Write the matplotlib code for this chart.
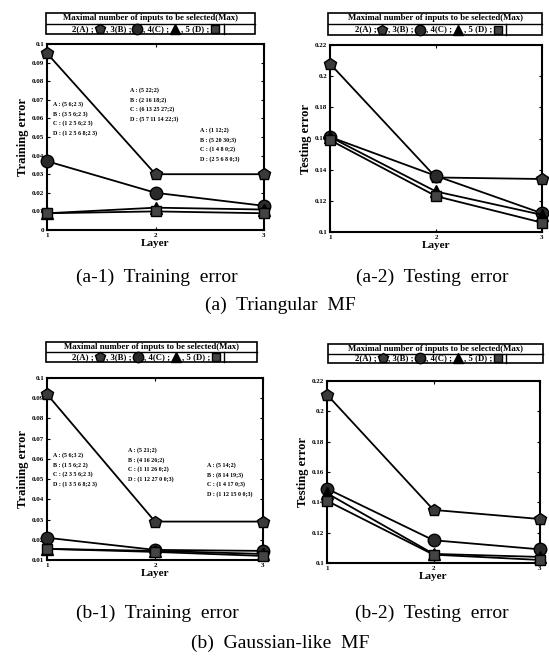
import matplotlib
matplotlib.use("Agg")
import matplotlib.pyplot as plt
from matplotlib.patches import Rectangle
from matplotlib.lines import Line2D

W, H = 549, 657

layers = [1, 2, 3]

# (a-1) Triangular MF, training error
a1_A = [0.095, 0.030, 0.030]
a1_B = [0.037, 0.020, 0.013]
a1_C = [0.009, 0.012, 0.011]
a1_D = [0.009, 0.010, 0.009]

# (a-2) Triangular MF, testing error
a2_A = [0.208, 0.135, 0.134]
a2_B = [0.161, 0.136, 0.112]
a2_C = [0.161, 0.126, 0.111]
a2_D = [0.159, 0.123, 0.106]

# (b-1) Gaussian-like MF, training error
b1_A = [0.092, 0.029, 0.029]
b1_B = [0.021, 0.015, 0.0145]
b1_C = [0.0155, 0.0145, 0.013]
b1_D = [0.0155, 0.014, 0.012]

# (b-2) Gaussian-like MF, testing error
b2_A = [0.211, 0.135, 0.129]
b2_B = [0.149, 0.115, 0.109]
b2_C = [0.146, 0.106, 0.104]
b2_D = [0.141, 0.1055, 0.102]

train_ticks = [0, 0.01, 0.02, 0.03, 0.04, 0.05, 0.06, 0.07, 0.08, 0.09, 0.1]
train_labels = ["0", "0.01", "0.02", "0.03", "0.04", "0.05", "0.06", "0.07", "0.08", "0.09", "0.1"]
test_ticks = [0.1, 0.12, 0.14, 0.16, 0.18, 0.2, 0.22]
test_labels = ["0.1", "0.12", "0.14", "0.16", "0.18", "0.2", "0.22"]

a1_notes = [
    ["A : (5 6;2 3)", "B : (3 5 6;2 3)", "C : (1 2 5 6;2 3)", "D : (1 2 5 6 8;2 3)"],
    ["A : (5 22;2)", "B : (2 16 18;2)", "C : (6 13 25 27;2)", "D : (5 7 11 14 22;3)"],
    ["A : (1 12;2)", "B : (5 20 30;3)", "C : (1 4 8 0;2)", "D : (2 5 6 8 0;3)"],
]
b1_notes = [
    ["A : (5 6;3 2)", "B : (1 5 6;2 2)", "C : (2 3 5 6;2 3)", "D : (1 3 5 6 8;2 3)"],
    ["A : (5 21;2)", "B : (4 16 26;2)", "C : (1 11 26 0;2)", "D : (1 12 27 0 0;3)"],
    ["A : (5 14;2)", "B : (8 14 19;3)", "C : (1 4 17 0;3)", "D : (1 12 15 0 0;3)"],
]

legend_parts = [("2(A) ;", "A"), (", 3(B) ;", "B"), (", 4(C) ;", "C"), (", 5 (D) ;", "D")]

serif = ["Liberation Serif", "DejaVu Serif"]
plt.rcParams["font.family"] = serif

styles = {
    "A": dict(marker="p", markersize=9, markerfacecolor="#3a3a3a", markeredgecolor="black"),
    "B": dict(marker="o", markersize=9, markerfacecolor="#2a2a2a", markeredgecolor="black"),
    "C": dict(marker="^", markersize=8, markerfacecolor="black", markeredgecolor="black"),
    "D": dict(marker="s", markersize=7.5, markerfacecolor="#444444", markeredgecolor="black"),
}

fig = plt.figure(figsize=(W / 100, H / 100), dpi=100)
renderer = fig.canvas.get_renderer()


def fx(x):
    return x / W


def fy(y):
    return 1 - y / H


def panel(box, series, ticks, labels, ylabel):
    l, t, r, b = box
    ax = fig.add_axes([fx(l), fy(b), (r - l) / W, (b - t) / H])
    for key, vals in series:
        ax.plot(layers, vals, color="black", lw=1.3, clip_on=False, zorder=3, **styles[key])
    ax.set_xlim(1, 3)
    ax.set_ylim(ticks[0], ticks[-1])
    ax.set_xticks(layers)
    ax.set_xticklabels(["1", "2", "3"], fontsize=5, fontweight="bold")
    ax.set_yticks(ticks)
    ax.set_yticklabels(labels, fontsize=5, fontweight="bold")
    ax.tick_params(direction="in", length=2.5, width=0.8, pad=2, top=True, right=True)
    for s in ax.spines.values():
        s.set_linewidth(1.5)
    ax.set_xlabel("Layer", fontsize=8, fontweight="bold", labelpad=1)
    ax.set_ylabel(ylabel, fontsize=9, fontweight="bold", labelpad=2)
    return ax


def legend_box(l, t, r, b):
    mid = (t + b) / 2
    w = r - l
    fig.patches.append(Rectangle((fx(l), fy(b)), w / W, (b - t) / H, transform=fig.transFigure,
                                 fill=False, lw=1.2, ec="black"))
    fig.lines.append(Line2D([fx(l), fx(r)], [fy(mid), fy(mid)], transform=fig.transFigure, color="black", lw=1.0))
    fig.text(fx((l + r) / 2), fy((t + mid) / 2), "Maximal number of inputs to be selected(Max)",
             ha="center", va="center", fontsize=6.3, fontweight="bold")
    # second row: text, then symbol, laid out one after the other
    yc = fy((mid + b) / 2)
    x = l + 0.125 * w
    for txt, key in legend_parts:
        t_obj = fig.text(fx(x), yc, txt, ha="left", va="center", fontsize=6.3, fontweight="bold")
        x += t_obj.get_window_extent(renderer).width + 6
        st = dict(styles[key])
        st["markersize"] = st["markersize"] - 1.5
        fig.lines.append(Line2D([fx(x)], [yc], transform=fig.transFigure, linestyle="none", **st))
        x += 6
    split = x + 2
    fig.lines.append(Line2D([fx(split), fx(split)], [fy(mid), fy(b)], transform=fig.transFigure,
                            color="black", lw=1.0))


def notes(blocks, positions):
    for lines, (x, y) in zip(blocks, positions):
        for i, s in enumerate(lines):
            fig.text(fx(x), fy(y + i * 9.7), s, ha="left", va="center", fontsize=4.3, fontweight="bold")


panel((47, 44, 264, 230), [("A", a1_A), ("B", a1_B), ("C", a1_C), ("D", a1_D)],
      train_ticks, train_labels, "Training error")
panel((330, 45, 542, 232), [("A", a2_A), ("B", a2_B), ("C", a2_C), ("D", a2_D)],
      test_ticks, test_labels, "Testing error")
panel((47, 378, 263, 560), [("A", b1_A), ("B", b1_B), ("C", b1_C), ("D", b1_D)],
      train_ticks[1:], train_labels[1:], "Training error")
panel((327, 381, 540, 563), [("A", b2_A), ("B", b2_B), ("C", b2_C), ("D", b2_D)],
      test_ticks, test_labels, "Testing error")

legend_box(46, 13, 255, 34)
legend_box(328, 13, 542, 35)
legend_box(46, 342, 257, 362)
legend_box(328, 344, 543, 363)

notes(a1_notes, [(53, 104), (130, 90), (200, 130)])
notes(b1_notes, [(53, 455), (128, 450), (207, 465)])

fig.text(fx(157), fy(277), "(a-1)  Training  error", ha="center", va="center", fontsize=14)
fig.text(fx(432), fy(277), "(a-2)  Testing  error", ha="center", va="center", fontsize=14)
fig.text(fx(280), fy(305), "(a)  Triangular  MF", ha="center", va="center", fontsize=14)
fig.text(fx(157), fy(613), "(b-1)  Training  error", ha="center", va="center", fontsize=14)
fig.text(fx(432), fy(613), "(b-2)  Testing  error", ha="center", va="center", fontsize=14)
fig.text(fx(280), fy(643), "(b)  Gaussian-like  MF", ha="center", va="center", fontsize=14)

fig.savefig("out.png", dpi=100, facecolor="white")
